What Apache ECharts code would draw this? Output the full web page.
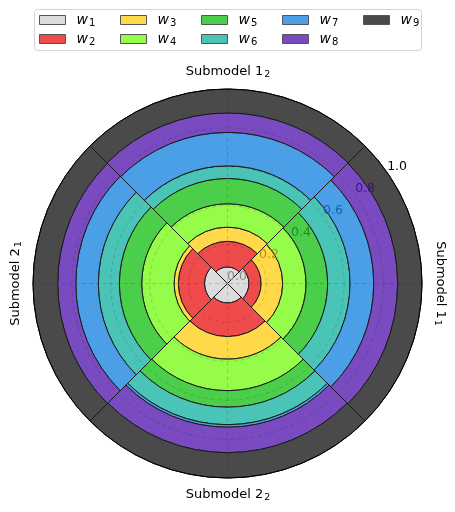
<!DOCTYPE html>
<html><head><meta charset="utf-8">
<script src="https://cdn.jsdelivr.net/npm/echarts@6/dist/echarts.min.js"></script>
<style>html,body{margin:0;padding:0;background:#fff}#c{width:455px;height:512px}</style>
</head><body><div id="c"></div>
<script>
// categories (counter-clockwise from the right): [main text, subscript]
const categories = ['Submodel 1_1', 'Submodel 1_2', 'Submodel 2_1', 'Submodel 2_2'];
const seriesNames = ['w_1', 'w_2', 'w_3', 'w_4', 'w_5', 'w_6', 'w_7', 'w_8', 'w_9'];
// stacked radial values per category
const w1 = [0.110, 0.085, 0.118, 0.100];
const w2 = [0.063, 0.132, 0.135, 0.173];
const w3 = [0.111, 0.073, 0.022, 0.116];
const w4 = [0.120, 0.120, 0.166, 0.162];
const w5 = [0.111, 0.130, 0.115, 0.085];
const w6 = [0.115, 0.065, 0.108, 0.090];
const w7 = [0.122, 0.172, 0.116, 0.013];
const w8 = [0.123, 0.100, 0.093, 0.131];
const w9 = [0.125, 0.123, 0.127, 0.130];
const radiusTickLabels = ['0.0', '0.2', '0.4', '0.6', '0.8', '1.0'];

const values = [w1, w2, w3, w4, w5, w6, w7, w8, w9];
const colors = ['#dcdcdc', '#ef4b4b', '#ffd94a', '#95fc4a', '#4bcf4b', '#4bc4b8', '#4a9fe6', '#7a4ac0', '#4a4a4a'];
const labelColors = ['#8c8c8c', '#b09020', '#1f8a1f', '#1f5fa8', '#3a1080', '#000000'];
const FONT = '"DejaVu Sans", sans-serif';

const chart = echarts.init(document.getElementById('c'), null, {renderer: 'canvas'});

const C = [227.5, 283.5], R = 194.5;
const series = seriesNames.map((n, i) => ({
  type: 'bar', coordinateSystem: 'polar', polarIndex: 0, name: n, data: values[i],
  stack: 'total', barCategoryGap: '0%', z: 2,
  itemStyle: {color: colors[i], borderColor: '#1a1a1a', borderWidth: 1},
  emphasis: {disabled: true}, animation: false
}));

const legendFormatter = n => { const p = n.split('_'); return '{i|' + p[0] + '}{s|' + p[1] + '}'; };
const legends = [0, 1, 2, 3, 4].map(k => ({
  data: seriesNames.slice(2 * k, 2 * k + 2), orient: 'vertical',
  left: 39 + 81 * k, top: 12, padding: 0, itemGap: 3, itemWidth: 26, itemHeight: 9,
  icon: 'rect', selectedMode: false, formatter: legendFormatter,
  itemStyle: {borderColor: '#555', borderWidth: 1},
  textStyle: {padding: [0, 0, 0, 6], lineHeight: 16, color: '#000',
    rich: {i: {fontFamily: FONT, fontStyle: 'italic', fontSize: 14, lineHeight: 16},
           s: {fontFamily: FONT, fontSize: 10, lineHeight: 10, verticalAlign: 'bottom', padding: [0, 0, 0, 1]}}}
}));

const catRich = {m: {fontFamily: FONT, fontSize: 13, lineHeight: 16, fill: '#000', color: '#000'},
                 s: {fontFamily: FONT, fontSize: 9.5, lineHeight: 9, verticalAlign: 'bottom', fill: '#000', color: '#000', padding: [0, 0, 0, 1]}};
const catText = c => { const p = c.split('_'); return '{m|' + p[0] + '}{s|' + p[1] + '}'; };
const catLabel = (i, x, y, rot) => ({
  type: 'text', x: x, y: y, rotation: rot, z: 10,
  style: {text: catText(categories[i]), rich: catRich, fill: '#000', align: 'center', verticalAlign: 'middle'}
});

const gridLine = {show: true, lineStyle: {color: 'rgba(0,0,0,0.18)', width: 0.8, type: [4, 3]}};

chart.setOption({
  animation: false,
  polar: [
    {center: C, radius: R},
    {center: C, radius: R},
    {center: [237, 277], radius: R}
  ],
  angleAxis: [
    {polarIndex: 0, type: 'category', data: categories, startAngle: -45, clockwise: false,
     axisLine: {show: true, lineStyle: {color: '#000', width: 1}}, axisTick: {show: false},
     axisLabel: {show: false}, splitLine: {show: false}, z: 3},
    {polarIndex: 1, type: 'value', min: 0, max: 360, interval: 90, startAngle: 0, clockwise: false,
     axisLine: {show: false}, axisTick: {show: false}, axisLabel: {show: false},
     splitLine: gridLine, z: 5},
    {polarIndex: 2, type: 'value', min: 0, max: 360, startAngle: 34.6, clockwise: false, show: false}
  ],
  radiusAxis: [
    {polarIndex: 0, min: 0, max: 1, show: false},
    {polarIndex: 1, min: 0, max: 1, interval: 0.2, axisLine: {show: false}, axisTick: {show: false},
     axisLabel: {show: false}, splitLine: gridLine, z: 5},
    {polarIndex: 2, min: 0, max: 1, interval: 0.2, axisLine: {show: false}, axisTick: {show: false},
     splitLine: {show: false}, z: 6,
     axisLabel: {show: true, margin: 0, align: 'center', verticalAlign: 'middle',
       formatter: v => { const k = Math.round(v * 5); return '{c' + k + '|' + radiusTickLabels[k] + '}'; },
       rich: Object.fromEntries(labelColors.map((c, k) => ['c' + k, {color: c, fontSize: 12.5, fontFamily: FONT}]))}}
  ],
  legend: legends,
  graphic: [
    {type: 'rect', z: 0, shape: {x: 34.5, y: 9.5, width: 387, height: 41, r: 3},
     style: {fill: '#fff', stroke: '#d4d4d4', lineWidth: 1}},
    catLabel(1, 228, 72, 0),
    catLabel(3, 228, 495, 0),
    catLabel(2, 16, 283.5, Math.PI / 2),
    catLabel(0, 440, 283.5, -Math.PI / 2)
  ],
  series: series
});
</script></body></html>
